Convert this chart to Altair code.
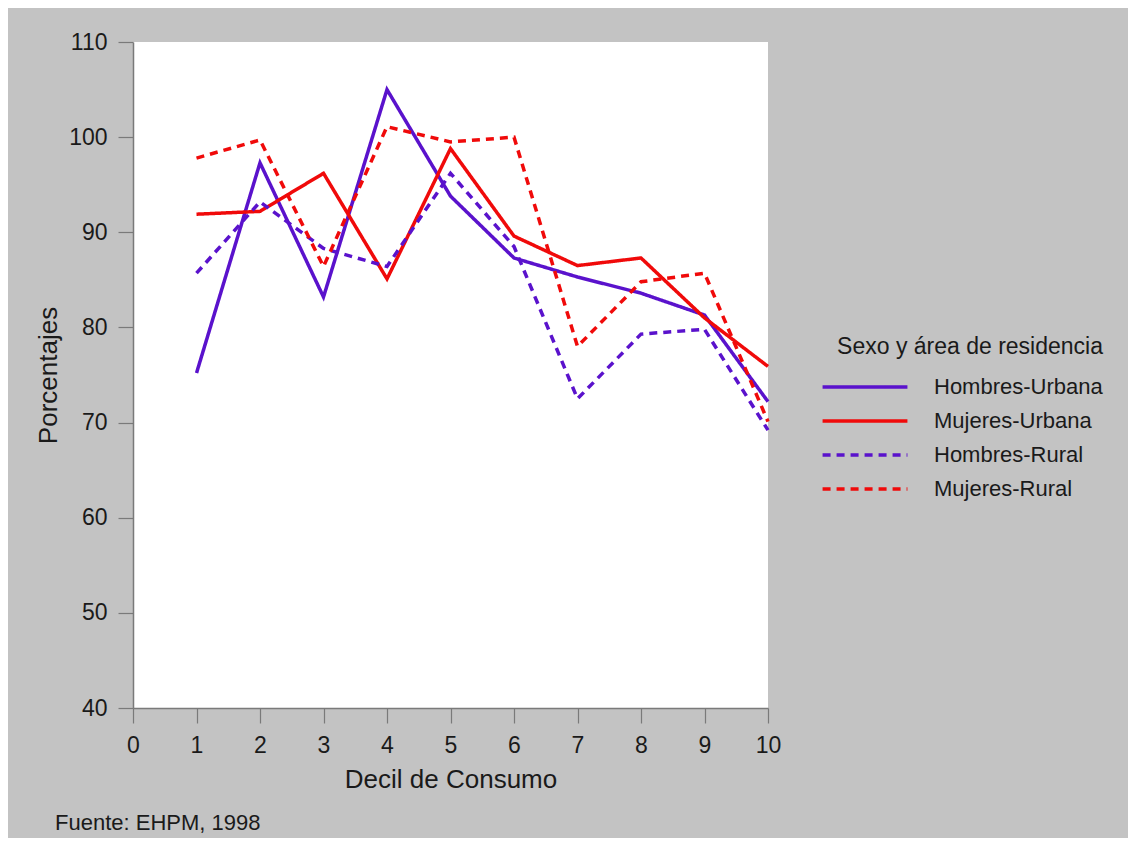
import altair as alt
import pandas as pd

deciles = [1, 2, 3, 4, 5, 6, 7, 8, 9, 10]
hombres_urbana = [75.2, 97.3, 83.2, 105.0, 93.8, 87.3, 85.3, 83.6, 81.3, 72.2]
mujeres_urbana = [91.9, 92.2, 96.2, 85.1, 98.8, 89.6, 86.5, 87.3, 81.0, 75.9]
hombres_rural = [85.7, 93.2, 88.3, 86.4, 96.2, 88.5, 72.5, 79.3, 79.8, 69.2]
mujeres_rural = [97.8, 99.7, 86.4, 101.1, 99.5, 100.0, 78.0, 84.8, 85.7, 70.1]

series_names = ["Hombres-Urbana", "Mujeres-Urbana", "Hombres-Rural", "Mujeres-Rural"]
series_values = [hombres_urbana, mujeres_urbana, hombres_rural, mujeres_rural]
series_colors = ["#5a12cc", "#f00a0a", "#5a12cc", "#f00a0a"]
series_dashes = [[1, 0], [1, 0], [8, 6], [8, 6]]

x_ticks = [0, 1, 2, 3, 4, 5, 6, 7, 8, 9, 10]
y_ticks = [40, 50, 60, 70, 80, 90, 100, 110]

rows = []
for name, vals in zip(series_names, series_values):
    for d, v in zip(deciles, vals):
        rows.append({"decil": d, "valor": v, "serie": name})
df = pd.DataFrame(rows)

FONT = "Liberation Sans, Arial, Helvetica, sans-serif"
TXT = "#1a1a1a"

chart = (
    alt.Chart(df)
    .mark_line(strokeWidth=3.5)
    .encode(
        x=alt.X(
            "decil:Q",
            scale=alt.Scale(domain=[0, 10], nice=False),
            axis=alt.Axis(
                values=x_ticks,
                title="Decil de Consumo",
                titleFontSize=26,
                titleFontWeight="normal",
                titleColor=TXT,
                titleFont=FONT,
                titleY=71,
                titleBaseline="middle",
                labelFontSize=23,
                labelColor=TXT,
                labelFont=FONT,
                labelPadding=11,
                tickSize=15,
                tickColor="#7a7a7a",
                tickWidth=1.2,
                domainColor="#7a7a7a",
                domainWidth=1.5,
                grid=False,
                labelFlush=False,
            ),
        ),
        y=alt.Y(
            "valor:Q",
            scale=alt.Scale(domain=[40, 110], nice=False, zero=False),
            axis=alt.Axis(
                values=y_ticks,
                title="Porcentajes",
                titleFontSize=26,
                titleFontWeight="normal",
                titleColor=TXT,
                titleFont=FONT,
                titleX=-85,
                titleY=333,
                titleAngle=270,
                titleAlign="center",
                titleBaseline="middle",
                labelFontSize=23,
                labelColor=TXT,
                labelFont=FONT,
                labelPadding=11,
                tickSize=15,
                tickColor="#7a7a7a",
                tickWidth=1.2,
                domainColor="#7a7a7a",
                domainWidth=1.5,
                grid=False,
                labelFlush=False,
            ),
        ),
        color=alt.Color(
            "serie:N",
            scale=alt.Scale(domain=series_names, range=series_colors),
            sort=series_names,
            legend=alt.Legend(title="Sexo y área de residencia"),
        ),
        strokeDash=alt.StrokeDash(
            "serie:N",
            scale=alt.Scale(domain=series_names, range=series_dashes),
            sort=series_names,
            legend=alt.Legend(title="Sexo y área de residencia"),
        ),
    )
    .properties(
        width=635,
        height=666,
        background="#c3c3c3",
        padding={"left": 125, "top": 34, "right": 360, "bottom": 130},
        autosize=alt.AutoSizeParams(type="none"),
        title=alt.TitleParams(
            text="Fuente: EHPM, 1998",
            orient="bottom",
            anchor="start",
            frame="group",
            dx=-78,
            offset=21,
            fontSize=22,
            fontWeight="normal",
            color=TXT,
            font=FONT,
        ),
    )
    .configure_view(fill="white", stroke=None)
    .configure_legend(
        orient="none",
        legendX=704,
        legendY=294,
        padding=0,
        titleFontSize=23,
        titleFontWeight="normal",
        titleColor=TXT,
        titleFont=FONT,
        titleAnchor="end",
        titlePadding=12,
        labelFontSize=22,
        labelColor=TXT,
        labelFont=FONT,
        labelOffset=53,
        symbolType="M-3,0H3",
        symbolSize=800,
        symbolStrokeWidth=3.5,
        rowPadding=7,
        titleLimit=400,
        labelLimit=300,
    )
)

chart.save("out.html", embed_options={"renderer": "svg", "actions": False})
